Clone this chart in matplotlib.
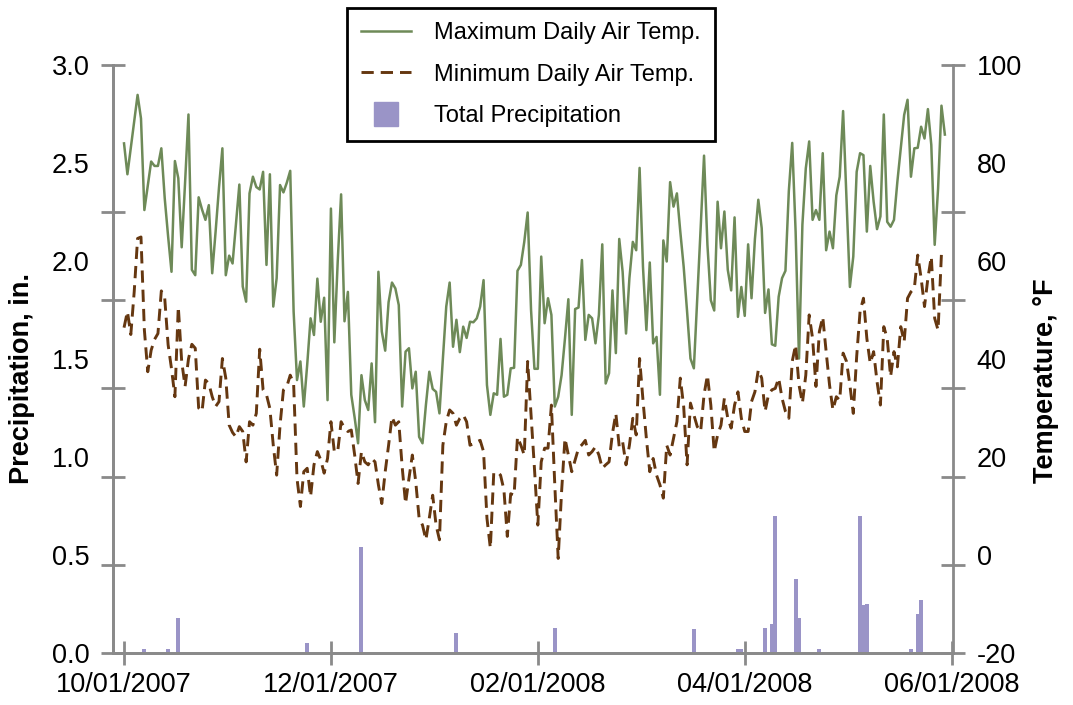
import numpy as np
import pandas as pd
import matplotlib
matplotlib.use('Agg')
import matplotlib.pyplot as plt
from matplotlib.lines import Line2D

plt.rcParams['font.family'] = ['Liberation Sans', 'DejaVu Sans']

# daily air temperature, deg F, starting 10/01/2007
tmax = [84.0, 77.7, 83.1, 88.5, 93.9, 89.1, 70.4, 75.3, 80.3, 79.4,
        79.4, 83.0, 72.8, 65.0, 57.8, 80.4, 76.9, 62.8, 76.0, 89.9,
        58.2, 57.1, 73.0, 70.5, 68.4, 71.4, 57.5, 66.0, 75.0, 83.0,
        57.1, 61.1, 59.5, 67.5, 75.6, 54.8, 51.7, 73.8, 77.2, 75.1,
        74.6, 78.2, 59.2, 77.7, 50.7, 56.5, 75.5, 74.0, 76.0, 78.4,
        49.7, 35.7, 39.5, 30.3, 38.8, 48.3, 44.9, 56.4, 47.6, 52.5,
        31.6, 70.7, 43.4, 59.9, 73.6, 47.7, 53.7, 32.7, 28.0, 22.8,
        36.7, 31.6, 29.6, 39.1, 27.1, 57.8, 45.6, 41.7, 51.6, 55.6,
        54.4, 51.0, 30.3, 41.5, 42.2, 34.0, 37.4, 24.1, 22.8, 30.6,
        37.4, 33.9, 33.3, 28.9, 40.0, 50.7, 55.6, 42.5, 48.0, 41.4,
        46.6, 44.3, 47.6, 47.5, 48.3, 50.7, 56.1, 34.7, 28.6, 33.0,
        32.7, 44.1, 32.3, 32.7, 38.1, 38.2, 58.0, 59.2, 63.9, 69.9,
        50.0, 38.0, 38.0, 60.9, 47.3, 52.4, 49.0, 30.3, 32.3, 36.7,
        44.2, 52.2, 28.6, 50.2, 50.5, 60.2, 43.9, 49.0, 48.3, 43.2,
        49.0, 63.4, 35.0, 37.1, 54.0, 41.2, 64.5, 57.8, 45.2, 56.5,
        63.9, 62.2, 79.0, 58.8, 45.9, 59.7, 43.2, 44.5, 32.7, 64.2,
        59.9, 76.1, 71.1, 73.8, 66.0, 58.8, 49.7, 40.1, 38.1, 52.4,
        66.7, 81.5, 63.3, 52.0, 49.9, 72.1, 62.6, 70.1, 58.2, 54.0,
        68.9, 48.6, 54.7, 48.8, 63.4, 52.4, 64.5, 72.5, 66.7, 49.4,
        54.2, 43.0, 42.7, 52.7, 56.5, 58.0, 74.3, 84.1, 66.0, 40.1,
        67.4, 78.9, 84.4, 68.4, 70.4, 68.4, 82.0, 62.2, 66.0, 62.6,
        73.4, 77.2, 90.6, 72.8, 54.7, 60.9, 78.2, 82.0, 81.6, 66.0,
        79.4, 72.1, 66.5, 69.1, 89.9, 68.0, 67.0, 68.4, 76.2, 83.0,
        89.8, 92.9, 77.2, 83.0, 83.1, 87.4, 85.0, 91.0, 83.7, 63.3,
        74.8, 91.7, 85.8]

tmin = [46.4, 49.7, 45.0, 53.7, 64.6, 64.9, 45.9, 37.4, 41.8, 44.0,
        45.2, 53.9, 52.4, 42.9, 38.0, 32.3, 50.7, 39.5, 34.4, 40.0,
        43.0, 42.2, 30.0, 29.3, 35.7, 35.0, 32.3, 30.3, 31.3, 40.1,
        36.1, 26.5, 25.0, 24.1, 26.2, 25.2, 19.0, 27.2, 26.5, 28.9,
        42.0, 33.7, 32.7, 29.9, 22.4, 16.3, 26.5, 33.7, 34.4, 36.7,
        35.0, 15.6, 9.9, 17.0, 17.7, 11.9, 18.4, 21.1, 19.4, 16.7,
        19.7, 27.2, 21.1, 21.1, 27.2, 25.9, 25.2, 25.5, 20.4, 14.6,
        21.1, 19.0, 18.4, 19.7, 19.0, 14.3, 10.5, 17.0, 22.4, 28.2,
        26.5, 27.2, 18.0, 10.5, 15.6, 20.4, 15.0, 7.5, 6.1, 3.1,
        7.5, 12.2, 6.1, 3.1, 22.4, 27.2, 29.6, 28.9, 26.5, 27.9,
        28.6, 27.2, 22.4, 22.7, 23.1, 23.4, 21.1, 7.5, 1.4, 16.7,
        17.0, 16.3, 13.3, 3.8, 12.5, 12.2, 24.1, 22.4, 20.4, 39.5,
        28.6, 17.7, 6.1, 19.0, 21.8, 21.8, 30.6, 14.3, -0.7, 12.9,
        23.8, 20.4, 17.0, 19.4, 21.8, 22.5, 23.4, 20.4, 21.1, 22.1,
        20.4, 17.7, 18.4, 19.0, 24.8, 28.9, 22.1, 23.1, 18.4, 22.4,
        27.9, 24.5, 40.1, 31.6, 23.8, 17.0, 19.7, 16.3, 14.3, 11.6,
        22.4, 20.4, 23.8, 27.2, 36.1, 30.3, 18.4, 31.0, 28.6, 26.2,
        25.2, 32.7, 36.7, 30.6, 21.1, 24.5, 26.5, 32.0, 27.9, 25.9,
        30.6, 33.3, 27.9, 25.2, 25.2, 31.3, 33.3, 37.8, 36.1, 29.3,
        32.7, 33.7, 34.0, 36.1, 32.0, 29.3, 27.9, 39.5, 42.9, 34.7,
        31.0, 36.7, 49.0, 44.2, 34.4, 45.6, 48.6, 41.5, 34.7, 29.6,
        32.3, 31.6, 41.2, 39.5, 34.7, 28.9, 40.5, 49.7, 52.4, 44.2,
        39.1, 41.5, 35.4, 30.6, 46.6, 44.2, 36.4, 41.5, 38.4, 46.6,
        43.5, 52.4, 53.7, 54.4, 61.2, 56.5, 50.7, 56.5, 60.9, 48.3,
        45.9, 61.6, 61.2]

# days with precipitation (inches)
precip_dates = ['2007-10-07', '2007-10-14', '2007-10-17', '2007-11-24', '2007-12-10',
                '2008-01-07', '2008-02-05', '2008-03-17', '2008-03-30', '2008-03-31',
                '2008-04-07', '2008-04-09', '2008-04-10', '2008-04-16', '2008-04-17',
                '2008-04-23', '2008-05-05', '2008-05-06', '2008-05-07', '2008-05-20',
                '2008-05-22', '2008-05-23']
precip_in = [0.02, 0.02, 0.18, 0.05, 0.54,
             0.10, 0.13, 0.12, 0.02, 0.02,
             0.13, 0.15, 0.70, 0.38, 0.18,
             0.02, 0.70, 0.245, 0.25, 0.02,
             0.20, 0.27]

xtick_labels = ['10/01/2007', '12/01/2007', '02/01/2008', '04/01/2008', '06/01/2008']
precip_ticks = [0.0, 0.5, 1.0, 1.5, 2.0, 2.5, 3.0]
temp_ticks = [-20, 0, 20, 40, 60, 80, 100]

start = pd.Timestamp('2007-10-01')
days = pd.date_range(start, periods=len(tmax), freq='D')
pdates = pd.to_datetime(precip_dates)

green = '#6e8a58'
brown = '#653710'
lav = '#9a94c7'
gray = '#8a8a8a'
fs = 19.5
dash = (0, (4.2, 2.4))

W, H = 1073, 705
fig = plt.figure(figsize=(W / 100, H / 100), dpi=100)
L, R, B, T = 113, 953, 653, 65
ax = fig.add_axes([L / W, 1 - B / H, (R - L) / W, (B - T) / H])

ax.bar(pdates, precip_in, width=1.2, color=lav, align='center', zorder=2)
ax.set_ylim(0, 3.0)
ax.set_xlim(start - pd.Timedelta(days=3.25), start + pd.Timedelta(days=244.4))

ax2 = ax.twinx()
ax2.plot(days, tmax, color=green, lw=1.8, zorder=3)
ax2.plot(days, tmin, color=brown, lw=2.1, linestyle=dash, zorder=3)
ax2.set_ylim(-20, 100)

# x ticks every 61 days
xt = [start + pd.Timedelta(days=61 * k) for k in range(5)]
ax.set_xticks(xt)
ax.set_xticklabels(xtick_labels)
ax.tick_params(axis='x', direction='inout', length=17, width=2, color=gray,
               labelsize=fs, pad=5)

# tick marks (unlabelled) and labels at separate positions
mark_frac = [0.0, 0.45, 0.9, 1.35, 1.8, 2.25, 3.0]
for a, lo, span, labs in [(ax, 0.0, 3.0, precip_ticks),
                          (ax2, -20, 120, temp_ticks)]:
    a.yaxis.remove_overlapping_locs = False
    a.set_yticks([lo + m / 3.0 * span for m in mark_frac])
    a.set_yticklabels([''] * len(mark_frac))
    a.set_yticks(labs, minor=True)
    if a is ax:
        a.set_yticklabels(['%.1f' % v for v in labs], minor=True)
    else:
        a.set_yticklabels(['%d' % v for v in labs], minor=True)
    a.tick_params(axis='y', which='major', direction='inout', length=17, width=2,
                  color=gray)
    a.tick_params(axis='y', which='minor', length=0, pad=17, labelsize=fs)

for a in (ax, ax2):
    a.spines['top'].set_visible(False)
    for s in ('left', 'right', 'bottom'):
        a.spines[s].set_color(gray)
        a.spines[s].set_linewidth(2)
ax.spines['right'].set_visible(False)

fig.text(22 / W, 1 - 378 / H, 'Precipitation, in.', rotation=90, ha='center',
         va='center', fontsize=fs, fontweight='bold')
fig.text(1046 / W, 1 - 381 / H, 'Temperature, \u00b0F', rotation=90, ha='center',
         va='center', fontsize=fs, fontweight='bold')

handles = [Line2D([], [], color=green, lw=1.8),
           Line2D([], [], color=brown, lw=2.1, linestyle=dash),
           Line2D([], [], color=lav, marker='s', markersize=17, linestyle='none')]
labels = ['Maximum Daily Air Temp.', 'Minimum Daily Air Temp.', 'Total Precipitation']
leg = fig.legend(handles, labels, loc='upper left', bbox_to_anchor=(347 / W, 1 - 8 / H),
                 bbox_transform=fig.transFigure, fontsize=17, handlelength=2.1,
                 handletextpad=1.0, labelspacing=0.82, borderpad=0.6,
                 borderaxespad=0, fancybox=False, framealpha=1)
leg.get_frame().set_edgecolor('black')
leg.get_frame().set_linewidth(2)

fig.savefig('out.png', dpi=100)
